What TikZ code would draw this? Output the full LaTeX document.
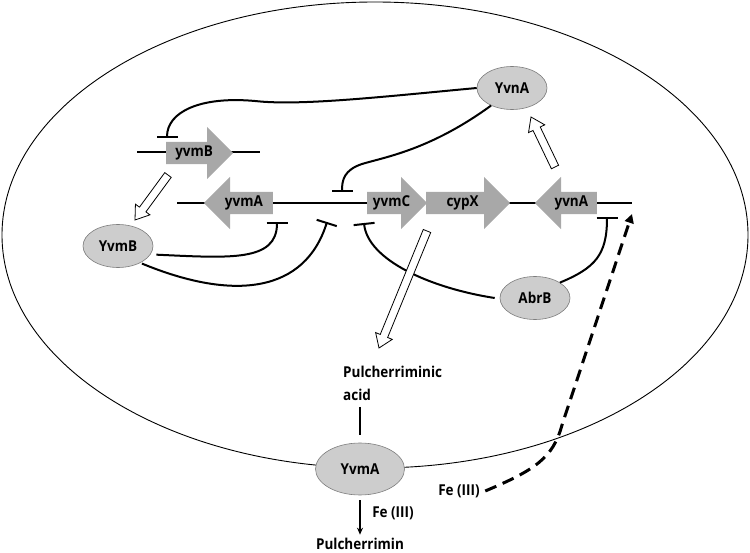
\documentclass[tikz,border=0pt]{standalone}
\usepackage{fontspec}
\setsansfont{Open Sans}[FakeStretch=0.9]
\usepackage{tikz}
\usetikzlibrary{positioning,arrows.meta,shapes.geometric,shapes.arrows,calc}
\definecolor{genegray}{RGB}{168,168,168}
\definecolor{protfill}{RGB}{205,205,205}
\definecolor{protdraw}{RGB}{125,125,125}

\newcommand{\hollowarrow}[2]{%
  \draw[hollow] let \p1=($(#2)-(#1)$), \n1={atan2(\y1,\x1)}, \n2={veclen(\x1,\y1)} in
    {[shift={(#1)},rotate=\n1] (0,4) -- ({\n2-13},4) -- ({\n2-13},9) -- (\n2,0)
     -- ({\n2-13},-9) -- ({\n2-13},-4) -- (0,-4) -- cycle};}

\begin{document}
\begin{tikzpicture}[
  x=1pt,y=-1pt,
  txt/.style={font=\sffamily\bfseries\fontsize{15}{23}\selectfont},
  gene/.style={single arrow,fill=genegray,txt,single arrow head extend=15pt,
               single arrow tip angle=90,text height=11pt,text depth=3pt,
               inner ysep=4pt,inner xsep=2pt,anchor=tail},
  prot/.style={ellipse,fill=protfill,draw=protdraw,line width=0.6pt,txt,
               minimum width=70pt,minimum height=43pt,inner sep=0pt},
  dna/.style={line width=2pt},
  inhib/.style={line width=2pt,-{Bar[width=21pt,line width=2pt]}},
  hollow/.style={draw=black,fill=white,line width=0.8pt,line join=miter},
  iron/.style={line width=3pt,dash pattern=on 12pt off 7pt,
               -{Triangle[length=9pt,width=9pt]}}
]
\useasboundingbox (0,0) rectangle (750,553);
% cell
\draw[line width=0.9pt] (375,235) ellipse [x radius=373,y radius=233];

% DNA strands
\coordinate (dnaBl) at (137,152);
\coordinate (dnaBr) at (260,152);
\coordinate (dnaAl) at (177,203);
\coordinate (dnaAr) at (632,203);
\draw[dna] (dnaBl) -- (dnaBr);
\draw[dna] (dnaAl) -- (dnaAr);

% genes
\node[gene,minimum height=67pt] (yvmB) at (166,153) {yvmB};
\node[gene,shape border rotate=180,minimum height=69pt] (yvmA) at (273,203) {yvmA};
\node[gene,minimum height=60pt] (yvmC) at (367,203) {yvmC};
\node[gene,minimum height=84pt] (cypX) at (426,203) {cypX};
\node[gene,shape border rotate=180,minimum height=62pt] (yvnA) at (597,203) {yvnA};

% proteins
\node[prot] (YvnAp) at (512,88) {YvnA};
\node[prot] (YvmBp) at (118,246) {YvmB};
\node[prot] (AbrBp) at (535,298) {AbrB};

% repression sites
\coordinate (opB) at (167,138);
\coordinate (opC) at (342,192);
\coordinate (opA1) at (277,222);
\coordinate (opA2) at (327,222);
\coordinate (opC2) at (364,223);
\coordinate (opN) at (607,217);

\draw[inhib] (YvnAp.west) .. controls (380,97) and (300,106) .. (255,101)
  .. controls (200,96) and (167,112) .. (opB);
\draw[inhib] (YvnAp.220) .. controls (430,150) and (385,157) .. (362,164)
  .. controls (344,170) and (342,180) .. (opC);
\draw[inhib] ([xshift=6pt]YvmBp.-15) .. controls (230,258) and (277,262) .. (opA1);
\draw[inhib] ([xshift=3pt]YvmBp.-40) .. controls (235,302) and (305,292) .. (opA2);
\draw[inhib] ([xshift=-5pt]AbrBp.west) .. controls (430,288) and (368,260) .. (opC2);
\draw[inhib] (AbrBp.north east) .. controls (595,268) and (607,255) .. (opN);

% expression
\coordinate (yvmBout) at (168,175);
\coordinate (YvmBin) at (135,220);
\coordinate (yvnAout) at (555,167);
\coordinate (YvnAin) at (531,117);
\coordinate (cypXout) at (427,231);
\coordinate (acidin) at (379,348);
\hollowarrow{yvmBout}{YvmBin}
\hollowarrow{yvnAout}{YvnAin}
\hollowarrow{cypXout}{acidin}

% export and iron
\node[txt,align=left,anchor=north west,inner sep=0pt] (acid) at (343,366) {Pulcherriminic\\acid};
\node[prot,minimum width=89pt,minimum height=52pt] (YvmAm) at (360,469) {YvmA};
\node[txt] (pulch) at (360,544) {Pulcherrimin};
\node[txt] (fein) at (393,513) {Fe (III)};
\node[txt] (feout) at (459,491) {Fe (III)};

\draw[line width=1.5pt] (YvmAm.north |- acid.south) ++(0,6) -- ([yshift=8pt]YvmAm.north);
\draw[line width=1.5pt,-{Stealth[length=7pt,width=6pt]}] ([yshift=-5pt]YvmAm.south) -- (pulch.north);
\draw[iron] ([xshift=2pt]feout.east) .. controls (535,470) and (553,458) .. (562,425) -- (632,214);
\end{tikzpicture}
\end{document}
